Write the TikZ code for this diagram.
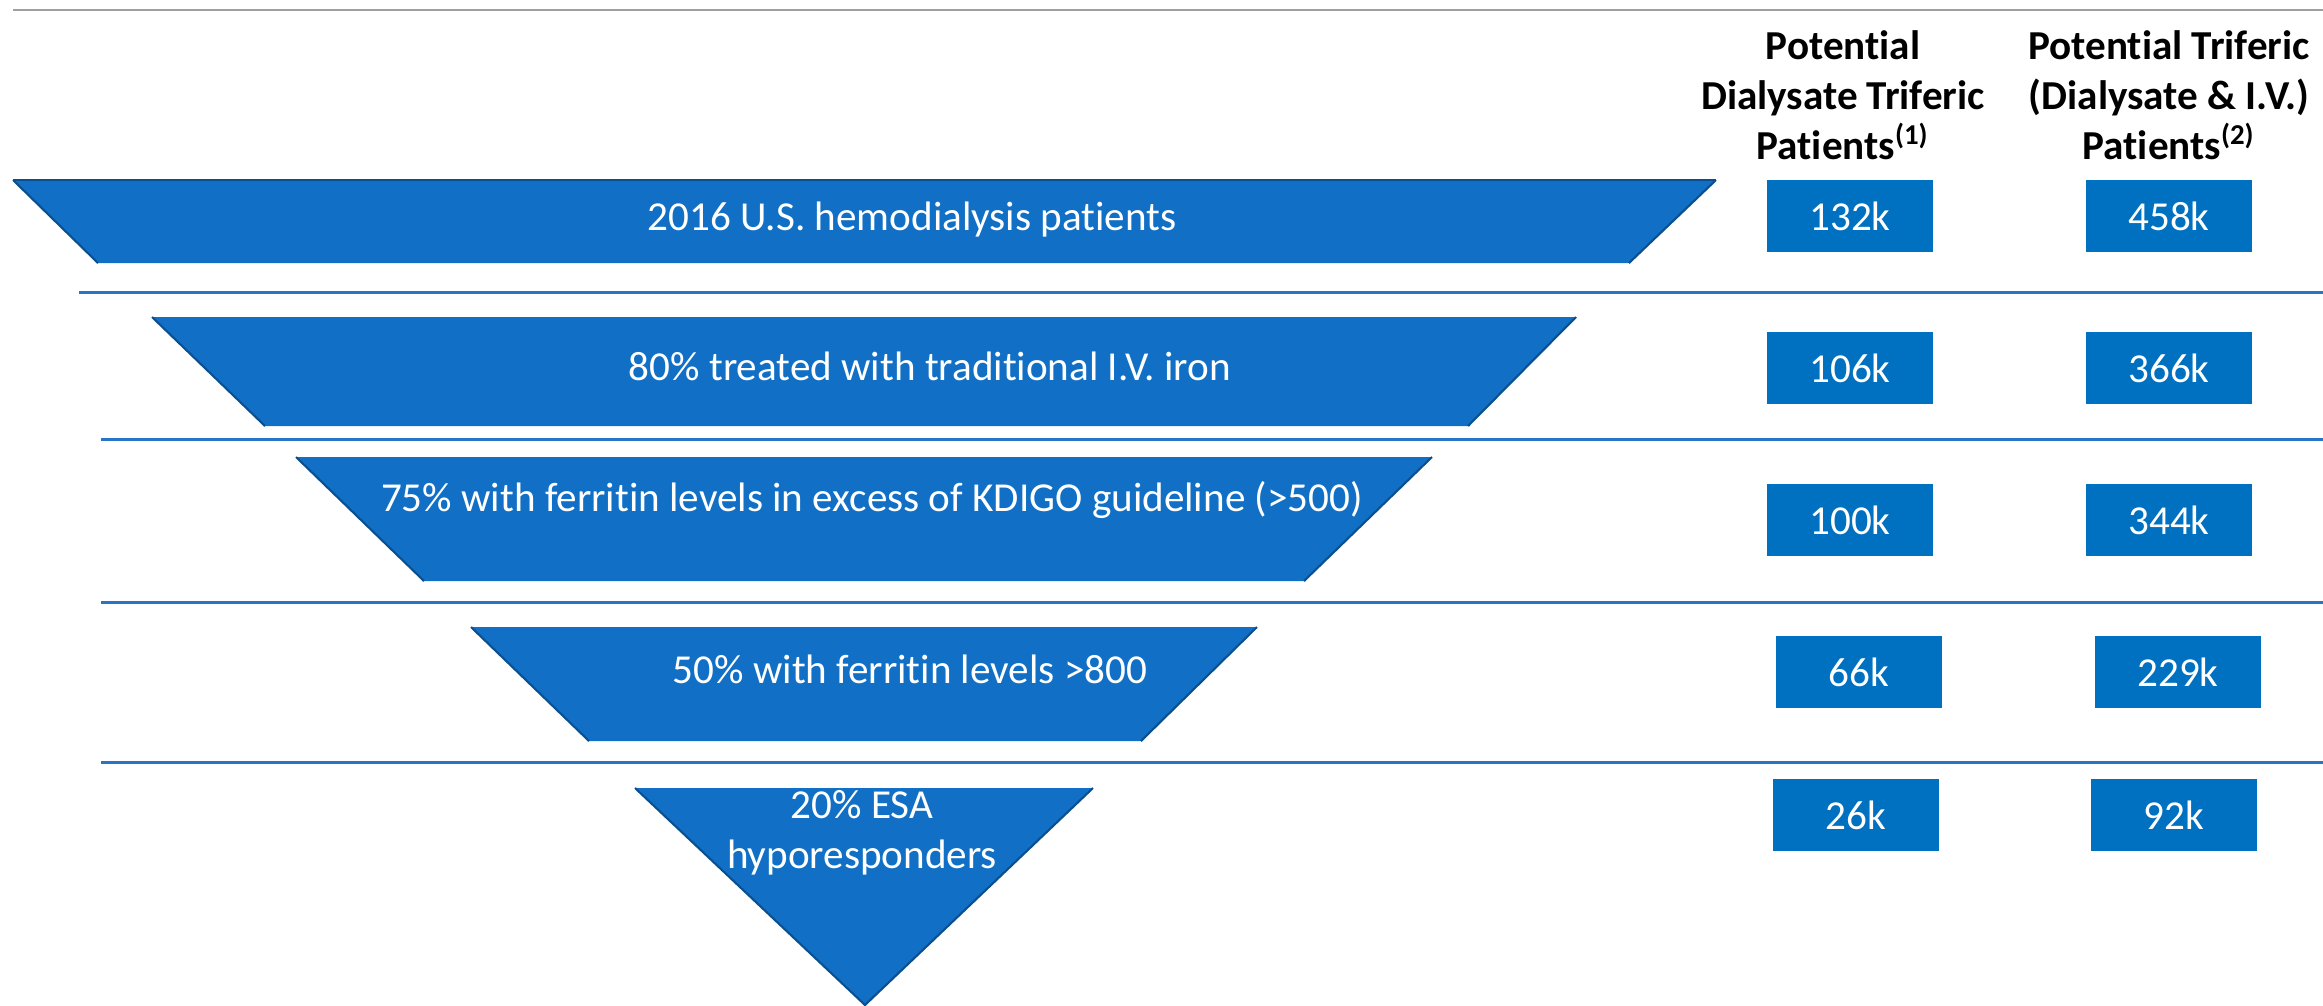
\documentclass[tikz,border=0pt]{standalone}
\usepackage{fontspec}
\setmainfont{Carlito}[Ligatures={NoCommon}]
\definecolor{funnelblue}{RGB}{17,112,197}
\definecolor{funneldark}{RGB}{10,80,145}
\definecolor{boxblue}{RGB}{0,112,192}
\definecolor{ruleblue}{RGB}{40,117,200}
\definecolor{rulegray}{RGB}{160,160,160}
\tikzset{
  funnel/.style={fill=funnelblue},
  funnelside/.style={draw=funneldark, line width=0.6pt},
  stagetext/.style={text=white, inner sep=0pt, font=\fontsize{11.7}{14.2}\selectfont},
  countbox/.style={fill=boxblue, text=white, minimum width=1.65cm, minimum height=0.72cm, inner sep=0pt, font=\fontsize{11.7}{14.2}\selectfont},
  colhead/.style={align=center, inner sep=0pt, font=\bfseries\fontsize{11.7}{14.2}\selectfont},
  rowrule/.style={draw=ruleblue, line width=0.85pt}
}

\begin{document}
\begin{tikzpicture}[x=0.01cm, y=-0.01cm]
    \useasboundingbox (0,0) rectangle (2323,1005);

    % thin grey rule along the top
    \draw[draw=rulegray, line width=0.6pt] (13,10) -- (2323,10);

    % blue rules between the rows: y/start
    \foreach \y/\x in {292/79, 439/101, 602/101, 762/101}
        \draw[rowrule] (\x,\y) -- (2323,\y);

    % funnel stages: top-left/top-right/bottom-left/bottom-right/top/bottom
    \foreach \tl/\tr/\bl/\br/\t/\b in {
        13/1716/98/1629/180/263,
        152/1576/265/1468/317/426,
        296/1432/424/1304/457/581,
        471/1257/589/1141/627/741
    } {
        \fill[funnel] (\tl,\t) -- (\tr,\t) -- (\br,\b) -- (\bl,\b) -- cycle;
        \draw[funnelside] (\tl,\t) -- (\bl,\b) (\tr,\t) -- (\br,\b);
    }
    \draw[funnelside] (13,180) -- (1716,180);

    % last stage ends in a point
    \fill[funnel] (635,788) -- (1093,788) -- (865,1005) -- cycle;
    \draw[funnelside] (635,788) -- (865,1005) -- (1093,788);

    % stage labels
    \node[stagetext] (stage1) at (912,220) {2016 U.S. hemodialysis patients};
    \node[stagetext] (stage2) at (930,366) {80\% treated with traditional I.V. iron};
    \node[stagetext] (stage3) at (872,500) {75\% with ferritin levels in excess of KDIGO guideline (>500)};
    \node[stagetext] (stage4) at (910,669) {50\% with ferritin levels >800};
    \node[stagetext, align=center] (stage5) at (862,833) {20\% ESA\\hyporesponders};

    % column heads
    \node[colhead, anchor=north] (headA) at (1843,30)
        {Potential\\Dialysate Triferic\\Patients\textsuperscript{(1)}};
    \node[colhead, anchor=north] (headB) at (2169,30)
        {Potential Triferic\\(Dialysate \& I.V.)\\Patients\textsuperscript{(2)}};

    % patient counts: row/x first/x second/y/first/second
    \foreach \r/\xa/\xb/\y/\a/\b in {
        1/1850/2169/216/132k/458k,
        2/1850/2169/368/106k/366k,
        3/1850/2169/520/100k/344k,
        4/1859/2178/672/66k/229k,
        5/1856/2174/815/26k/92k
    } {
        \node[countbox] (countA\r) at (\xa,\y) {\a};
        \node[countbox] (countB\r) at (\xb,\y) {\b};
    }

\end{tikzpicture}
\end{document}
